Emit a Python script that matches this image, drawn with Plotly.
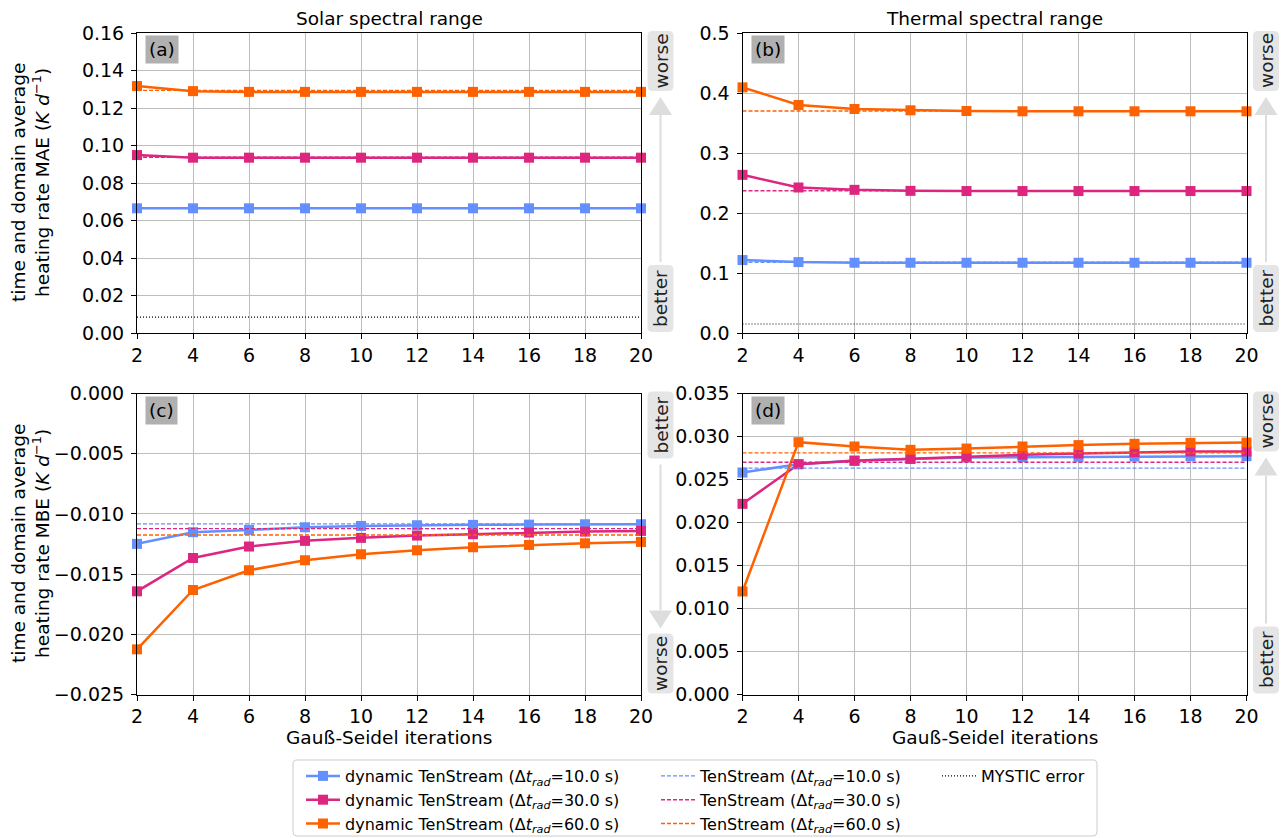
import plotly.graph_objects as go

# ---------------- data ----------------
iterations = [2, 4, 6, 8, 10, 12, 14, 16, 18, 20]
dt_labels = ["10.0", "30.0", "60.0"]
colors = ["#648FFF", "#DC267F", "#FE6100"]

# (a) solar MAE
solar_mae_10 = [0.0665, 0.0665, 0.0665, 0.0665, 0.0665, 0.0665, 0.0665, 0.0665, 0.0665, 0.0665]
solar_mae_30 = [0.0949, 0.0935, 0.0935, 0.0935, 0.0935, 0.0935, 0.0935, 0.0935, 0.0935, 0.0935]
solar_mae_60 = [0.1317, 0.1290, 0.1286, 0.1286, 0.1286, 0.1286, 0.1286, 0.1286, 0.1286, 0.1286]
solar_mae_ref = [0.0665, 0.0937, 0.1294]
solar_mae_mystic = 0.0085

# (b) thermal MAE
thermal_mae_10 = [0.1216, 0.1182, 0.1171, 0.1171, 0.1171, 0.1171, 0.1171, 0.1171, 0.1171, 0.1171]
thermal_mae_30 = [0.2636, 0.2425, 0.2386, 0.2369, 0.2366, 0.2366, 0.2366, 0.2366, 0.2366, 0.2366]
thermal_mae_60 = [0.4094, 0.3800, 0.3734, 0.3712, 0.3700, 0.3695, 0.3695, 0.3695, 0.3695, 0.3695]
thermal_mae_ref = [0.1180, 0.2370, 0.3700]
thermal_mae_mystic = 0.015

# (c) solar MBE
solar_mbe_10 = [-0.01249, -0.01152, -0.01133, -0.01111, -0.01100, -0.01094, -0.01091, -0.01089, -0.01086, -0.01086]
solar_mbe_30 = [-0.01643, -0.01366, -0.01271, -0.01224, -0.01199, -0.01180, -0.01169, -0.01155, -0.01147, -0.01141]
solar_mbe_60 = [-0.02125, -0.01632, -0.01468, -0.01385, -0.01335, -0.01302, -0.01277, -0.01258, -0.01244, -0.01233]
solar_mbe_ref = [-0.01083, -0.01122, -0.01175]

# (d) thermal MBE
thermal_mbe_10 = [0.02581, 0.02678, 0.02721, 0.02740, 0.02756, 0.02760, 0.02764, 0.02767, 0.02771, 0.02771]
thermal_mbe_30 = [0.02217, 0.02678, 0.02717, 0.02740, 0.02767, 0.02787, 0.02802, 0.02818, 0.02826, 0.02826]
thermal_mbe_60 = [0.01198, 0.02934, 0.02884, 0.02845, 0.02860, 0.02884, 0.02900, 0.02915, 0.02926, 0.02930]
thermal_mbe_ref = [0.02632, 0.02700, 0.02810]

x_ticks = [2, 4, 6, 8, 10, 12, 14, 16, 18, 20]
ticks_a = [0.00, 0.02, 0.04, 0.06, 0.08, 0.10, 0.12, 0.14, 0.16]
ticks_b = [0.0, 0.1, 0.2, 0.3, 0.4, 0.5]
ticks_c = [-0.025, -0.020, -0.015, -0.010, -0.005, 0.000]
ticks_d = [0.000, 0.005, 0.010, 0.015, 0.020, 0.025, 0.030, 0.035]

# ---------------- layout helpers ----------------
W, H = 1282, 838
FONT = "DejaVu Sans"


def px(v):
    return v / W


def py(v):
    return 1 - v / H


def rrect_path(x0, y0, x1, y1, r):
    pts = [
        ("M", [(x0 + r, y0)]), ("L", [(x1 - r, y0)]), ("Q", [(x1, y0), (x1, y0 + r)]),
        ("L", [(x1, y1 - r)]), ("Q", [(x1, y1), (x1 - r, y1)]),
        ("L", [(x0 + r, y1)]), ("Q", [(x0, y1), (x0, y1 - r)]),
        ("L", [(x0, y0 + r)]), ("Q", [(x0, y0), (x0 + r, y0)]),
    ]
    s = ""
    for cmd, coords in pts:
        s += cmd + " " + " ".join(f"{px(a):.6f},{py(b):.6f}" for a, b in coords) + " "
    return s + "Z"


XL = (137, 641)
XR = (742.5, 1246.5)
YT = (33, 333)
YB = (393.5, 694.5)

fig = go.Figure()

panels = [
    ("x", "y", [solar_mae_10, solar_mae_30, solar_mae_60], solar_mae_ref, solar_mae_mystic, True),
    ("x2", "y2", [thermal_mae_10, thermal_mae_30, thermal_mae_60], thermal_mae_ref, thermal_mae_mystic, False),
    ("x3", "y3", [solar_mbe_10, solar_mbe_30, solar_mbe_60], solar_mbe_ref, None, False),
    ("x4", "y4", [thermal_mbe_10, thermal_mbe_30, thermal_mbe_60], thermal_mbe_ref, None, False),
]

for xa, ya, series, refs, mystic, show in panels:
    for i, vals in enumerate(series):
        fig.add_trace(go.Scatter(
            x=iterations, y=vals, xaxis=xa, yaxis=ya, mode="lines+markers",
            line=dict(color=colors[i], width=2.5),
            marker=dict(symbol="square", size=10, color=colors[i]),
            name=f"dynamic TenStream (Δ<i>t</i><sub><i>rad</i></sub>={dt_labels[i]} s)",
            showlegend=show, legend="legend", cliponaxis=False,
        ))
    for i, v in enumerate(refs):
        fig.add_trace(go.Scatter(
            x=[iterations[0], iterations[-1]], y=[v, v], xaxis=xa, yaxis=ya, mode="lines",
            line=dict(color=colors[i], width=1.4, dash="4px,2px"),
            name=f"TenStream (Δ<i>t</i><sub><i>rad</i></sub>={dt_labels[i]} s)",
            showlegend=show, legend="legend2",
        ))
    if mystic is not None:
        fig.add_trace(go.Scatter(
            x=[iterations[0], iterations[-1]], y=[mystic, mystic], xaxis=xa, yaxis=ya, mode="lines",
            line=dict(color="black", width=1.2, dash="1px,2px"),
            name="MYSTIC error", showlegend=show, legend="legend3",
        ))

axis_common = dict(
    showline=True, linecolor="black", linewidth=1, mirror=True,
    showgrid=True, gridcolor="#bdbdbd", gridwidth=1,
    ticks="outside", ticklen=5, tickcolor="black", tickwidth=1,
    tickfont=dict(family=FONT, size=19, color="black"),
    zeroline=False, automargin=False,
)
yextra = dict(ticklabelstandoff=3)

fig.update_layout(
    width=W, height=H,
    margin=dict(l=0, r=0, t=0, b=0, pad=0, autoexpand=False),
    paper_bgcolor="white", plot_bgcolor="white",
    font=dict(family=FONT, color="black"),
    xaxis=dict(domain=[px(XL[0]), px(XL[1])], anchor="y", range=[2, 20], tickvals=x_ticks, **axis_common),
    yaxis=dict(domain=[py(YT[1]), py(YT[0])], anchor="x", range=[0, 0.16], tickvals=ticks_a, tickformat=".2f", **axis_common, **yextra),
    xaxis2=dict(domain=[px(XR[0]), px(XR[1])], anchor="y2", range=[2, 20], tickvals=x_ticks, **axis_common),
    yaxis2=dict(domain=[py(YT[1]), py(YT[0])], anchor="x2", range=[0, 0.5], tickvals=ticks_b, tickformat=".1f", **axis_common, **yextra),
    xaxis3=dict(domain=[px(XL[0]), px(XL[1])], anchor="y3", range=[2, 20], tickvals=x_ticks, **axis_common),
    yaxis3=dict(domain=[py(YB[1]), py(YB[0])], anchor="x3", range=[-0.025, 0], tickvals=ticks_c, tickformat=".3f", **axis_common, **yextra),
    xaxis4=dict(domain=[px(XR[0]), px(XR[1])], anchor="y4", range=[2, 20], tickvals=x_ticks, **axis_common),
    yaxis4=dict(domain=[py(YB[1]), py(YB[0])], anchor="x4", range=[0, 0.035], tickvals=ticks_d, tickformat=".3f", **axis_common, **yextra),
)

leg_common = dict(
    orientation="v", xanchor="left", yanchor="top", bgcolor="rgba(0,0,0,0)",
    font=dict(family=FONT, size=16, color="black"), itemwidth=34, tracegroupgap=0,
    traceorder="normal",
)
fig.update_layout(
    legend=dict(x=px(301), y=py(759), **leg_common),
    legend2=dict(x=px(656), y=py(759), **leg_common),
    legend3=dict(x=px(937), y=py(759), **leg_common),
)

ann = []
shapes = []

TXT = 18.5
# titles
ann.append(dict(text="Solar spectral range", x=px((XL[0] + XL[1]) / 2), y=py(18), xref="paper", yref="paper",
                showarrow=False, font=dict(size=TXT, family=FONT), xanchor="center", yanchor="middle"))
ann.append(dict(text="Thermal spectral range", x=px((XR[0] + XR[1]) / 2), y=py(18), xref="paper", yref="paper",
                showarrow=False, font=dict(size=TXT, family=FONT), xanchor="center", yanchor="middle"))

# y-axis titles
ann.append(dict(text="time and domain average<br>heating rate MAE (<i>K d</i><sup>−1</sup>)",
                x=px(30), y=py((YT[0] + YT[1]) / 2), xref="paper", yref="paper", textangle=-90,
                showarrow=False, font=dict(size=TXT, family=FONT), xanchor="center", yanchor="middle"))
ann.append(dict(text="time and domain average<br>heating rate MBE (<i>K d</i><sup>−1</sup>)",
                x=px(30), y=py((YB[0] + YB[1]) / 2), xref="paper", yref="paper", textangle=-90,
                showarrow=False, font=dict(size=TXT, family=FONT), xanchor="center", yanchor="middle"))

# x-axis titles
for xr in (XL, XR):
    ann.append(dict(text="Gauß-Seidel iterations", x=px((xr[0] + xr[1]) / 2), y=py(737), xref="paper", yref="paper",
                    showarrow=False, font=dict(size=TXT, family=FONT), xanchor="center", yanchor="middle"))

# panel labels
for lab, xr, yr in (("(a)", XL, YT), ("(b)", XR, YT), ("(c)", XL, YB), ("(d)", XR, YB)):
    ann.append(dict(text=lab, x=px(xr[0] + 8), y=py(yr[0] + 2), xref="paper", yref="paper",
                    showarrow=False, font=dict(size=TXT, family=FONT, color="black"), xanchor="left", yanchor="top",
                    bgcolor="#b0b0b0", borderpad=3))

# better / worse indicators
ARROW_COL = "#dddddd"
BOX_COL = "#e5e5e5"
BOX_H = {"worse": 60, "better": 67}
BOX_W = 26


def word_box(xc, y0, y1, word):
    shapes.append(dict(type="path", xref="paper", yref="paper", layer="above",
                       path=rrect_path(xc - BOX_W / 2, y0, xc + BOX_W / 2, y1, 5),
                       fillcolor=BOX_COL, line=dict(width=0)))
    ann.append(dict(text=word, x=px(xc), y=py((y0 + y1) / 2), xref="paper", yref="paper",
                    textangle=-90, showarrow=False, font=dict(size=TXT, family=FONT, color="#222"),
                    xanchor="center", yanchor="middle"))


def indicator(xc, ytop, ybot, top_word, bot_word, up):
    t0 = ytop - 2
    t1 = t0 + BOX_H[top_word]
    b1 = ybot - 1
    b0 = b1 - BOX_H[bot_word]
    word_box(xc, t0, t1, top_word)
    word_box(xc, b0, b1, bot_word)
    if up:
        tip, base = t1 + 6, t1 + 24
        lstart, lend = base, b0 - 3
    else:
        tip, base = b0 - 5, b0 - 23
        lstart, lend = t1 + 6, base
    shapes.append(dict(type="line", xref="paper", yref="paper", x0=px(xc), x1=px(xc), y0=py(lstart), y1=py(lend),
                       line=dict(color=ARROW_COL, width=2)))
    shapes.append(dict(type="path", xref="paper", yref="paper",
                       path=f"M {px(xc - 11.5)},{py(base)} L {px(xc + 11.5)},{py(base)} L {px(xc)},{py(tip)} Z",
                       fillcolor=ARROW_COL, line=dict(width=0)))


indicator(660.5, YT[0], YT[1], "worse", "better", True)
indicator(1266, YT[0], YT[1], "worse", "better", True)
indicator(660.5, YB[0], YB[1], "better", "worse", False)
indicator(1266, YB[0], YB[1], "worse", "better", True)

# legend frame (rounded)
shapes.append(dict(type="path", xref="paper", yref="paper", path=rrect_path(293, 760, 1097, 836, 4),
                   line=dict(color="#cccccc", width=1), fillcolor="rgba(0,0,0,0)"))

fig.update_layout(annotations=ann, shapes=shapes)

fig.write_html(
    "out.html",
    config={"displayModeBar": False},
    post_script="document.documentElement.style.margin='0';document.body.style.margin='0';"
                "document.body.style.padding='0';document.body.style.overflow='hidden';",
)
